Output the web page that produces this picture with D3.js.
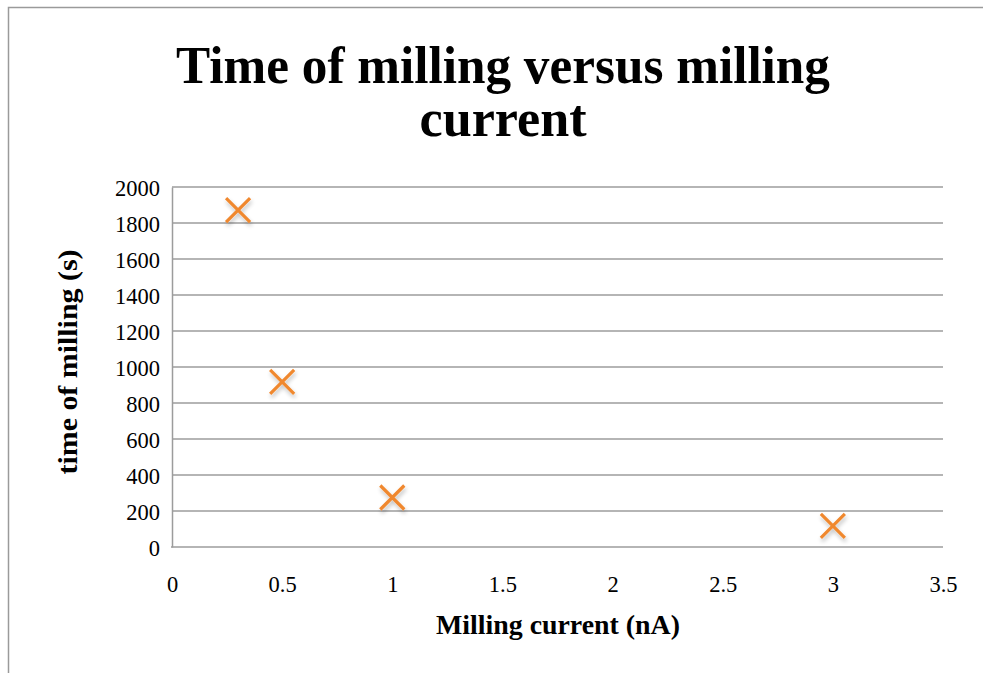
<!DOCTYPE html>
<html>
<head>
<meta charset="utf-8">
<script src="https://cdn.jsdelivr.net/npm/d3@7"></script>
<style>
  html, body { margin: 0; padding: 0; background: #fff; }
  svg { display: block; }
  text { font-family: "Liberation Serif", "DejaVu Serif", serif; fill: #000; }
</style>
</head>
<body>
<svg id="chart" width="983" height="673"></svg>
<script>
// Milling current (nA) against time of milling (s)
const currents = [0.3, 0.5, 1, 3];
const times = [1872, 917, 275, 117];
const xTicks = [0, 0.5, 1, 1.5, 2, 2.5, 3, 3.5];
const yTicks = [0, 200, 400, 600, 800, 1000, 1200, 1400, 1600, 1800, 2000];
const titleLines = ["Time of milling versus milling", "current"];
const xTitle = "Milling current (nA)";
const yTitle = "time of milling (s)";

const svg = d3.select("#chart");
const W = 983, H = 673;
const plot = { left: 172, right: 943, top: 187, bottom: 547 };

// outer frame (top and left edges visible)
svg.append("path")
  .attr("d", `M8.5,${H} L8.5,7.5 L${W},7.5`)
  .attr("fill", "none")
  .attr("stroke", "#9a9a9a")
  .attr("stroke-width", 1.5);

const x = d3.scaleLinear().domain([0, 3.5]).range([plot.left, plot.right]);
const y = d3.scaleLinear().domain([0, 2000]).range([plot.bottom, plot.top]);

// horizontal gridlines
svg.append("g")
  .selectAll("line")
  .data(yTicks.filter(d => d > 0))
  .join("line")
  .attr("x1", plot.left).attr("x2", plot.right)
  .attr("y1", d => y(d)).attr("y2", d => y(d))
  .attr("stroke", "#9c9c9c")
  .attr("stroke-width", 1.5);

// y axis
const yAxis = svg.append("g")
  .attr("transform", `translate(${plot.left},0)`)
  .call(d3.axisLeft(y).tickValues(yTicks).tickSize(0).tickPadding(12).tickFormat(d3.format("d")));
yAxis.select(".domain").attr("stroke", "#9c9c9c").attr("stroke-width", 1.5);
yAxis.selectAll("text")
  .style("font-family", "'Liberation Serif', serif")
  .style("font-size", "22.5px")
  .attr("fill", "#000")
  .attr("dy", "0.36em");

// x axis
const xAxis = svg.append("g")
  .attr("transform", `translate(0,${plot.bottom})`)
  .call(d3.axisBottom(x).tickValues(xTicks).tickSize(0).tickPadding(45).tickFormat(d => String(d)));
xAxis.select(".domain").attr("stroke", "#9c9c9c").attr("stroke-width", 1.5)
  .attr("d", `M${plot.left - 1},0H${plot.right}`);
xAxis.selectAll("text")
  .style("font-family", "'Liberation Serif', serif")
  .style("font-size", "22.5px")
  .attr("fill", "#000")
  .attr("dy", "0");

// markers: orange X with a soft shadow
const defs = svg.append("defs");
const f = defs.append("filter").attr("id", "shadow").attr("x", "-50%").attr("y", "-50%").attr("width", "200%").attr("height", "200%");
f.append("feGaussianBlur").attr("in", "SourceAlpha").attr("stdDeviation", 2).attr("result", "b");
f.append("feOffset").attr("in", "b").attr("dx", 1).attr("dy", 3).attr("result", "o");
f.append("feComponentTransfer").attr("in", "o").attr("result", "s")
  .append("feFuncA").attr("type", "linear").attr("slope", 0.25);
const m = f.append("feMerge");
m.append("feMergeNode").attr("in", "s");
m.append("feMergeNode").attr("in", "SourceGraphic");

const pts = currents.map((c, i) => ({ c, t: times[i] }));
const r = 12;
svg.append("g")
  .selectAll("path")
  .data(pts)
  .join("path")
  .attr("d", d => {
    const cx = x(d.c), cy = y(d.t);
    return `M${cx - r},${cy - r}L${cx + r},${cy + r}M${cx - r},${cy + r}L${cx + r},${cy - r}`;
  })
  .attr("fill", "none")
  .attr("stroke", "#f0882f")
  .attr("stroke-width", 3.2)
  .attr("filter", "url(#shadow)");

// title, two lines
const titleWidths = [654, 167];
svg.append("g")
  .selectAll("text")
  .data(titleLines)
  .join("text")
  .attr("text-anchor", "middle")
  .attr("font-weight", "bold")
  .style("font-size", "52px")
  .attr("x", 503)
  .attr("y", (d, i) => 83 + i * 53)
  .attr("textLength", (d, i) => titleWidths[i])
  .attr("lengthAdjust", "spacingAndGlyphs")
  .text(d => d);

// axis titles
svg.append("text")
  .attr("text-anchor", "middle")
  .attr("font-weight", "bold")
  .style("font-size", "27px")
  .attr("x", 558).attr("y", 634)
  .attr("textLength", 244)
  .attr("lengthAdjust", "spacingAndGlyphs")
  .text(xTitle);

svg.append("text")
  .attr("text-anchor", "middle")
  .attr("font-weight", "bold")
  .style("font-size", "27px")
  .attr("transform", "translate(77,362) rotate(-90)")
  .attr("textLength", 225)
  .attr("lengthAdjust", "spacingAndGlyphs")
  .text(yTitle);
</script>
</body>
</html>
